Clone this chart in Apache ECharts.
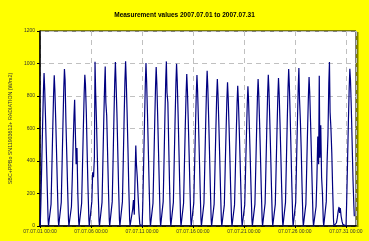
<!DOCTYPE html>
<html><head><meta charset="utf-8">
<script src="https://cdn.jsdelivr.net/npm/echarts@6/dist/echarts.min.js"></script>
<style>html,body{margin:0;padding:0;background:#ffff00;}#c{width:369px;height:241px;}</style>
</head><body><div id="c"></div>
<script>
const title = 'Measurement values 2007.07.01 to 2007.07.31';
const yName = 'SBC+PPBo SN11903612+ RADIATION (W/m2)';
const xTickLabels = ['07.07.01 00:00','07.07.06 00:00','07.07.11 00:00','07.07.16 00:00','07.07.21 00:00','07.07.26 00:00','07.07.31 00:00'];
// sample hours within each day
const hours = [0.5, 2, 4, 6, 8, 9.5, 11, 13, 15, 17, 19, 20];
// radiation (W/m2) per day at the hours above
const day01 = [0,140,375,610,830,941,845,660,450,235,40,0];
const day02 = [0,135,370,600,815,927,835,650,445,230,35,0];
const day03 = [0,145,385,625,850,966,900,640,440,230,40,0];
const day04 = [0,120,300,500,680,777,600,380,480,200,30,0];
const day05 = [0,140,370,600,820,931,870,700,450,230,40,0];
const day06 = [0,150,330,300,420,1011,820,640,420,200,30,0];
const day07 = [0,145,390,640,860,982,760,680,460,240,40,0];
const day08 = [0,150,400,660,900,1009,880,700,470,240,40,0];
const day09 = [0,150,400,660,900,1013,900,700,480,240,40,0];
const day10 = [0,100,160,70,330,496,380,300,180,80,10,0];
const day11 = [0,140,380,640,880,1003,890,690,470,240,40,0];
const day12 = [0,140,380,630,860,978,880,680,460,240,40,0];
const day13 = [0,150,400,660,900,1013,820,760,500,250,40,0];
const day14 = [0,145,400,650,880,999,900,700,480,250,40,0];
const day15 = [0,140,375,610,820,935,840,655,450,235,40,0];
const day16 = [0,140,370,605,820,929,835,650,445,230,40,0];
const day17 = [0,140,380,620,840,956,860,670,460,240,40,0];
const day18 = [0,135,360,590,800,905,815,635,435,225,35,0];
const day19 = [0,130,355,575,780,884,795,620,425,220,35,0];
const day20 = [0,130,345,560,760,863,775,605,415,215,35,0];
const day21 = [0,130,345,560,755,860,775,600,415,215,35,0];
const day22 = [0,135,360,590,800,905,815,635,435,225,35,0];
const day23 = [0,140,370,605,820,931,840,650,450,235,40,0];
const day24 = [0,135,365,590,800,911,820,640,440,230,35,0];
const day25 = [0,145,385,630,850,966,870,680,465,240,40,0];
const day26 = [0,145,390,630,855,972,780,650,470,240,40,0];
const day27 = [0,135,365,595,805,917,825,640,440,230,35,0];
const day28 = [0,120,300,550,380,925,420,620,300,200,30,0];
const day29 = [0,150,400,560,880,1009,700,600,450,230,40,0];
const day30 = [0,20,50,90,117,80,110,60,30,10,0,0];
const day31 = [0,145,385,630,850,968,900,720,500,280,120,60];

const days = [day01,day02,day03,day04,day05,day06,day07,day08,day09,day10,day11,day12,day13,day14,day15,day16,day17,day18,day19,day20,day21,day22,day23,day24,day25,day26,day27,day28,day29,day30,day31];
const data = [];
days.forEach((vals, d) => {
  vals.forEach((v, i) => data.push([d + hours[i] / 24, v]));
});

const chart = echarts.init(document.getElementById('c'), null, {renderer: 'canvas'});
const FONT = 'Liberation Sans';
chart.setOption({
  backgroundColor: '#ffff00',
  animation: false,
  title: {text: title, left: 'center', top: 7, textStyle: {fontSize: 6.5, fontWeight: 'bold', color: '#000', fontFamily: FONT}},
  grid: {left: 33.7, right: 13, top: 31, bottom: 15, show: true, backgroundColor: '#ffffff', borderColor: '#000', borderWidth: 1},
  xAxis: {
    type: 'value', min: 0, max: 31, interval: 5,
    axisLine: {show: true, onZero: false, lineStyle: {color: '#000', width: 1.5}},
    axisTick: {show: true, length: 2, lineStyle: {color: '#000'}},
    axisLabel: {show: true, showMaxLabel: false, fontSize: 5, color: '#333', fontFamily: FONT, margin: 3,
      formatter: v => (v % 5 === 0 && v / 5 < xTickLabels.length) ? xTickLabels[v / 5] : ''},
    splitLine: {show: true, lineStyle: {color: '#c0c0c0', type: [5, 4], width: 1}}
  },
  yAxis: {
    type: 'value', min: 0, max: 1200, interval: 200,
    name: yName, nameLocation: 'middle', nameGap: 18, nameRotate: 90,
    nameTextStyle: {fontSize: 5.3, color: '#333', fontFamily: FONT},
    axisLine: {show: true, lineStyle: {color: '#000', width: 1.5}},
    axisTick: {show: true, length: 3, lineStyle: {color: '#000'}},
    axisLabel: {fontSize: 5, color: '#333', fontFamily: FONT, margin: 5, formatter: v => String(v)},
    splitLine: {show: true, lineStyle: {color: '#c0c0c0', type: [5, 4], width: 1}}
  },
  series: [{
    type: 'line', data: data, showSymbol: false, silent: true,
    lineStyle: {color: '#000080', width: 1.2}, itemStyle: {color: '#000080'}
  }],
  graphic: [
    {type: 'rect', shape: {x: 356.5, y: 32, width: 2, height: 195}, style: {fill: '#808000'}, silent: true}
  ]
});
</script></body></html>
